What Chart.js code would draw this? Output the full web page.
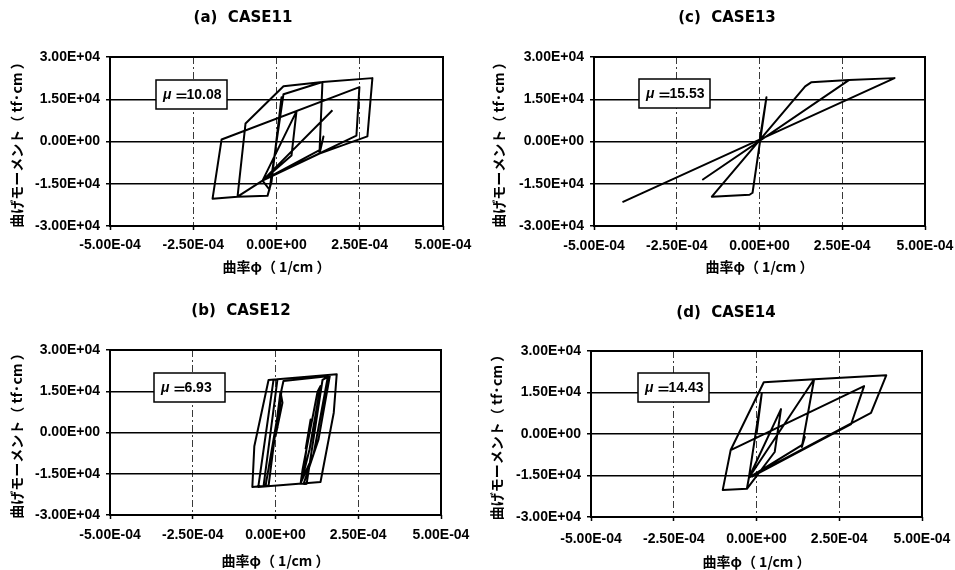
<!DOCTYPE html>
<html>
<head>
<meta charset="utf-8">
<script src="https://cdn.jsdelivr.net/npm/chart.js@4.4.1/dist/chart.umd.min.js"></script>
<style>
  html, body { margin: 0; padding: 0; background: #fff; overflow: hidden; }
  #wrap { position: relative; width: 955px; height: 570px; }
  canvas { position: absolute; }
</style>
</head>
<body>
<div id="wrap">
  <canvas id="case11" width="477" height="285" style="left:0;top:0"></canvas>
  <canvas id="case13" width="478" height="285" style="left:477px;top:0"></canvas>
  <canvas id="case12" width="477" height="285" style="left:0;top:285px"></canvas>
  <canvas id="case14" width="478" height="285" style="left:477px;top:285px"></canvas>
</div>
<script>
// Axis ticks shared by all four hysteresis plots
const xTickValues = [-5e-4, -2.5e-4, 0, 2.5e-4, 5e-4];
const xTickLabels = ['-5.00E-04', '-2.50E-04', '0.00E+00', '2.50E-04', '5.00E-04'];
const yTickValues = [-3e4, -1.5e4, 0, 1.5e4, 3e4];
const yTickLabels = ['-3.00E+04', '-1.50E+04', '0.00E+00', '1.50E+04', '3.00E+04'];

const panelTitles = ['(a)  CASE11', '(b)  CASE12', '(c)  CASE13', '(d)  CASE14'];
const ductilityLabels = ['10.08', '6.93', '15.53', '14.43'];

// Curvature φ (1/cm) and bending moment (tf·cm), in loading order
const case11Phi = [0, 1.5e-5, -1.5e-5, -2.7e-5, -1.17e-4, -9.3e-5, 2.1e-5, 1.38e-4, 1.29e-4, -4.2e-5,
  6.0e-5, 4.5e-5, -4.2e-5, -1.17e-4, -1.92e-4, -1.65e-4, 2.49e-4, 2.40e-4, -4.2e-5, -2.1e-5,
  2.1e-5, 1.38e-4, 2.88e-4, 2.73e-4, 1.29e-4, 1.41e-4, 1.32e-4, -4.2e-5, 1.68e-4];
const case11Moment = [0, 15700, -14300, -19300, -19600, 6400, 19600, 21100, -4300, -13900,
  10700, -5000, -13900, -19600, -20300, 700, 19300, 2100, -13900, -17100,
  16800, 21100, 22500, 1800, -4300, 1800, -2900, -13900, 11100];

const case12Phi = [0, 1.8e-5, 6e-6, 1.2e-5, -3.0e-5, -7.0e-5, -6.4e-5, -2.1e-5, 1.85e-4, 1.76e-4,
  1.36e-4, -5.2e-5, -6e-6, 6e-6, -3.6e-5, -2.1e-5, 1.5e-5, 2.1e-5, 0, 1.5e-5,
  2.4e-5, 1.64e-4, 1.30e-4, 8.5e-5, 9.4e-5, 1.42e-4, 1.58e-4, 1.15e-4, 7.6e-5, 8.2e-5,
  1.27e-4, 1.36e-4, 1.03e-4, 8.2e-5, 1.06e-4, 9.1e-5];
const case12Moment = [0, 15100, 1800, 10100, -19400, -19800, -5000, 19100, 21200, 7200,
  -18000, -19800, 19100, 19400, -19400, -19400, 14800, 10800, -1400, 13700,
  18700, 20500, -2500, -18700, -18700, 19100, 20200, -7900, -18400, -13300,
  14800, 16900, -6100, -16200, 4700, -6100];

const case13Phi = [0, 2.1e-5, -2.1e-5, -3.0e-5, -1.44e-4, 1.38e-4, 1.56e-4, 2.70e-4, -1.71e-4, 2.70e-4,
  4.08e-4, -4.14e-4];
const case13Moment = [0, 15700, -18200, -18900, -19600, 19600, 21000, 21800, -13500, 21800,
  22500, -21500];

const case14Phi = [0, 1.6e-5, -2.3e-5, 7.4e-5, 5.5e-5, -2.9e-5, -1.02e-4, -7.8e-5, 2.2e-5, 1.74e-4,
  1.37e-4, 1.46e-4, 1.37e-4, -2.3e-5, 1.74e-4, 3.92e-4, 3.46e-4, -2.3e-5, -2.9e-5, -1.02e-4,
  -7.8e-5, 3.25e-4, 2.86e-4, -1.5e-5];
const case14Moment = [0, 14800, -15800, 9000, -6500, -19800, -20200, -5800, 18700, 19800,
  -4700, -1100, -4000, -15800, 19800, 21200, 7600, -15800, -19800, -20200,
  -5800, 17300, 3600, -15500];

const numFont = { family: '"Liberation Sans", Arial, sans-serif', size: 14, weight: 'bold' };
const jpFont = { family: '"Noto Sans CJK JP", sans-serif', size: 14, weight: 'bold' };

// Frame, caption and ductility box drawn on top of each plot
const panelDecor = {
  id: 'panelDecor',
  afterDraw(chart, args, opts) {
    const { ctx, chartArea: a } = chart;
    ctx.save();
    ctx.strokeStyle = '#000';
    ctx.lineWidth = 2;
    ctx.strokeRect(a.left, a.top, a.right - a.left, a.bottom - a.top);

    ctx.fillStyle = '#000';
    ctx.font = 'bold 15px "DejaVu Sans", sans-serif';
    ctx.textAlign = 'center';
    ctx.textBaseline = 'middle';
    ctx.fillText(opts.title, opts.titleX, opts.titleY);

    const bx = a.left + opts.boxDx, by = a.top + opts.boxDy, bw = 71, bh = 29;
    ctx.fillStyle = '#fff';
    ctx.fillRect(bx, by, bw, bh);
    ctx.lineWidth = 1.5;
    ctx.strokeRect(bx, by, bw, bh);
    ctx.fillStyle = '#000';
    ctx.textAlign = 'left';
    const ty = by + bh / 2 + 1;
    let tx = bx + 7;
    ctx.font = 'italic bold 14px "Liberation Sans", sans-serif';
    ctx.fillText('μ', tx, ty);
    tx += ctx.measureText('μ').width + 3;
    ctx.font = 'bold 14px "Noto Sans CJK JP", sans-serif';
    ctx.fillText('＝', tx, ty);
    tx += ctx.measureText('＝').width - 2;
    ctx.font = 'bold 14px "Liberation Sans", sans-serif';
    ctx.fillText(opts.mu, tx, ty);
    ctx.restore();
  }
};

function makePanel(id, phi, moment, title, mu, g) {
  const points = phi.map((p, i) => ({ x: p, y: moment[i] }));
  return new Chart(document.getElementById(id), {
    type: 'scatter',
    data: {
      datasets: [{
        data: points,
        showLine: true,
        borderColor: '#000',
        borderWidth: 2,
        borderJoinStyle: 'round',
        pointRadius: 0,
        pointHoverRadius: 0,
        tension: 0,
        fill: false
      }]
    },
    plugins: [panelDecor],
    options: {
      responsive: false,
      animation: false,
      devicePixelRatio: 1,
      events: [],
      layout: { padding: { left: g.padL, top: g.top, right: g.padR, bottom: g.padB } },
      plugins: {
        legend: { display: false },
        tooltip: { enabled: false },
        panelDecor: { title: title, titleX: g.titleX, titleY: g.titleY, mu: mu, boxDx: g.boxDx, boxDy: g.boxDy }
      },
      scales: {
        x: {
          type: 'linear',
          min: -5e-4,
          max: 5e-4,
          afterBuildTicks: s => { s.ticks = xTickValues.map(v => ({ value: v })); },
          afterFit: s => { s.height = g.xAxisH; s.paddingLeft = 0; s.paddingRight = 0; },
          ticks: {
            autoSkip: false,
            maxRotation: 0,
            padding: g.xTickPad,
            color: '#000',
            font: numFont,
            callback: v => xTickLabels[xTickValues.indexOf(v)]
          },
          grid: {
            color: c => (c.index === 0 || c.index === xTickValues.length - 1) ? 'rgba(0,0,0,0)' : '#3a3a3a',
            lineWidth: 1,
            drawTicks: true,
            tickLength: 4,
            tickColor: '#000',
            tickWidth: 1.5
          },
          border: { display: false, dash: [7, 3, 2, 3] },
          title: {
            display: true,
            text: '曲率φ（ 1/cm ）',
            color: '#000',
            font: jpFont,
            padding: { top: 0, bottom: 0 }
          }
        },
        y: {
          type: 'linear',
          min: -3e4,
          max: 3e4,
          afterBuildTicks: s => { s.ticks = yTickValues.map(v => ({ value: v })); },
          afterFit: s => { s.width = g.yAxisW; s.paddingTop = 0; s.paddingBottom = 0; },
          ticks: {
            autoSkip: false,
            padding: 6,
            color: '#000',
            font: numFont,
            callback: v => yTickLabels[yTickValues.indexOf(v)]
          },
          grid: {
            color: '#000',
            lineWidth: 1.5,
            drawTicks: true,
            tickLength: 4,
            tickColor: '#000',
            tickWidth: 1.5
          },
          border: { display: false },
          title: {
            display: true,
            text: '曲げモーメント（ tf·cm ）',
            color: '#000',
            font: jpFont,
            padding: { top: 0, bottom: 0 }
          }
        }
      }
    }
  });
}

makePanel('case11', case11Phi, case11Moment, panelTitles[0], ductilityLabels[0],
  { padL: 8.6, yAxisW: 101.4, top: 57, padR: 34, padB: 9.6, xAxisH: 49.4, xTickPad: 7,
    titleX: 243, titleY: 18, boxDx: 46, boxDy: 23 });
makePanel('case13', case13Phi, case13Moment, panelTitles[2], ductilityLabels[2],
  { padL: 13.6, yAxisW: 103.4, top: 57, padR: 30, padB: 9.6, xAxisH: 49.4, xTickPad: 8,
    titleX: 250, titleY: 18, boxDx: 45, boxDy: 22 });
makePanel('case12', case12Phi, case12Moment, panelTitles[1], ductilityLabels[1],
  { padL: 8.6, yAxisW: 101.4, top: 65, padR: 36, padB: 0.6, xAxisH: 54.4, xTickPad: 8,
    titleX: 241, titleY: 26, boxDx: 44, boxDy: 23 });
makePanel('case14', case14Phi, case14Moment, panelTitles[3], ductilityLabels[3],
  { padL: 11.6, yAxisW: 102.4, top: 66, padR: 33, padB: 0, xAxisH: 53, xTickPad: 10,
    titleX: 249, titleY: 28, boxDx: 47, boxDy: 22 });
</script>
</body>
</html>
